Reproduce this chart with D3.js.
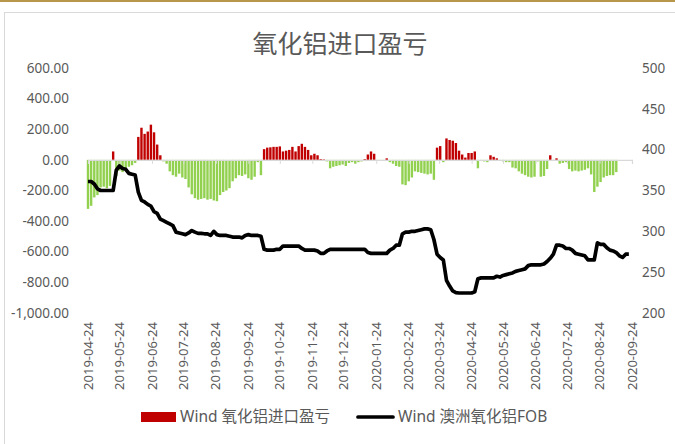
<!DOCTYPE html>
<html>
<head>
<meta charset="utf-8">
<script src="https://cdn.jsdelivr.net/npm/d3@7"></script>
<style>
  body { margin: 0; background: #fff; }
  svg { display: block; }
  text { font-family: "Noto Sans", "Noto Sans CJK SC", sans-serif; fill: #595959; }
</style>
</head>
<body>
<svg width="675" height="444"></svg>
<script>
// 数据：每 3 天一个点，从 2019-04-24 开始
var startDate = new Date(2019, 3, 24);
var endDate = new Date(2020, 8, 24);

// 氧化铝进口盈亏 (左轴)
var profit = [
  -320, -300, -245, -230, -180, -175, -185, -170, 55, -105,
  -70, -80, -60, -45, -35, -20, 150, 210, 170, 185,
  230, 180, 100, 30, -10, -25, -75, -100, -110, -90,
  -115, -125, -180, -225, -250, -260, -255, -250, -260, -255,
  -265, -270, -230, -210, -200, -185, -140, -120, -100, -105,
  -95, -120, -130, -110, -15, -100, 70, 80, 82, 85,
  85, 88, 55, 60, 65, 85, 55, 90, 105, 85,
  65, 30, 40, 30, 5, 3, -10, -55, -45, -40,
  -35, -30, -40, -20, -15, -25, -15, -10, 5, 35,
  55, 40, -5, -5, -5, 10, -15, -25, -40, -45,
  -160, -165, -140, -115, -75, -80, -85, -90, -95, -90,
  -130, 80, 90, -15, 140, 130, 125, 110, 60, 35,
  15, 45, 45, 55, -55, -5, -10, -15, 30, 20,
  10, -5, -10, -15, -15, -50, -55, -75, -90, -100,
  -110, -115, -110, -10, -110, -105, -60, 30, -5, 10,
  -25, -20, -15, -60, -75, -70, -75, -70, -65, -55,
  -95, -210, -175, -145, -115, -105, -100, -100, -80, 0,
  0, 0, 0
];

// 澳洲氧化铝FOB (右轴)
var fob = [
  361, 361, 358, 352, 350, 350, 350, 350, 350, 375,
  380, 377, 376, 371, 370, 369, 348, 338, 336, 333,
  331, 324, 322, 315, 313, 311, 309, 307, 299, 298,
  297, 296, 298, 301, 299, 297.5, 297.5, 297, 297, 295,
  300, 296, 295, 295, 295, 294, 293, 293, 293, 292,
  295, 296, 295, 295, 295, 294, 278, 277, 277, 277,
  278, 278, 282, 282, 282, 282, 282, 282, 279, 277,
  277, 277, 277, 276, 273, 273, 276, 278, 278, 278,
  278, 278, 278, 278, 278, 278, 278, 278, 278, 274,
  273, 273, 273, 273, 273, 273, 277, 279, 283, 283,
  297, 299, 299, 300, 300, 301, 302, 303, 303, 302,
  290, 272, 268, 265, 240, 233, 227, 225, 224.5, 224.5,
  224.5, 224.5, 224.5, 226, 242, 243, 243, 243, 243, 243,
  245, 244, 246, 247, 248, 249, 251, 252, 253, 254,
  258, 259, 259, 259, 259, 260, 263, 267, 272, 283,
  283, 282, 279, 279, 277, 273, 272, 271, 270, 265,
  265, 265, 286, 284, 284, 280, 277, 276, 274, 270,
  268, 272, 272
];

var leftTicks = [600, 400, 200, 0, -200, -400, -600, -800, -1000];
var rightTicks = [500, 450, 400, 350, 300, 250, 200];
var tickDates = d3.range(18).map(function (k) { return new Date(2019, 3 + k, 24); });

var dates = profit.map(function (d, i) { return d3.timeDay.offset(startDate, i * 3); });

var svg = d3.select("svg");

// 外框
svg.append("rect").attr("x", 0).attr("y", 0).attr("width", 675).attr("height", 2).attr("fill", "#b8964a");
svg.append("rect")
    .attr("x", 4.5).attr("y", 12.5).attr("width", 680).attr("height", 440)
    .attr("fill", "none").attr("stroke", "#d9d9d9");

// 标题
svg.append("text")
    .attr("x", 340).attr("y", 53)
    .attr("text-anchor", "middle")
    .attr("font-size", 25)
    .style("font-family", "'Noto Sans CJK SC', sans-serif")
    .text("氧化铝进口盈亏");

var x = d3.scaleTime().domain([startDate, endDate]).range([88, 632]);
var yL = d3.scaleLinear().domain([-1000, 600]).range([313, 68]);
var yR = d3.scaleLinear().domain([200, 500]).range([313, 68]);

// 左轴
svg.append("g")
    .selectAll("text")
    .data(leftTicks)
    .enter().append("text")
    .attr("x", 69)
    .attr("y", function (d) { return yL(d); })
    .attr("dy", "0.35em")
    .attr("text-anchor", "end")
    .attr("font-size", 13.5)
    .text(function (d) { return d3.format(",.2f")(d).replace("−", "-"); });

// 右轴
svg.append("g")
    .selectAll("text")
    .data(rightTicks)
    .enter().append("text")
    .attr("x", 642)
    .attr("y", function (d) { return yR(d); })
    .attr("dy", "0.35em")
    .attr("text-anchor", "start")
    .attr("font-size", 13.5)
    .text(function (d) { return d; });

// 柱子
svg.append("g")
    .selectAll("rect")
    .data(profit)
    .enter().append("rect")
    .attr("x", function (d, i) { return x(dates[i]) - 1.2; })
    .attr("width", 2.4)
    .attr("y", function (d) { return d >= 0 ? yL(d) : yL(0); })
    .attr("height", function (d) { return Math.abs(yL(d) - yL(0)); })
    .attr("fill", function (d) { return d >= 0 ? "#c00000" : "#92d050"; });

// 零轴线和刻度
var axis = svg.append("g")
    .attr("transform", "translate(0," + yL(0) + ")")
    .call(d3.axisBottom(x).tickValues(tickDates).tickSize(4).tickFormat(""));
axis.select(".domain").attr("stroke", "#d9d9d9").attr("stroke-width", 1.2);
axis.selectAll(".tick line").attr("stroke", "#d9d9d9");

// x轴标签
svg.append("g")
    .selectAll("text")
    .data(tickDates)
    .enter().append("text")
    .attr("transform", function (d) { return "translate(" + x(d) + ",322) rotate(-90)"; })
    .attr("dy", "0.35em")
    .attr("text-anchor", "end")
    .attr("font-size", 13)
    .text(function (d) { return d3.timeFormat("%Y-%m-%d")(d); });

// 折线
var line = d3.line()
    .x(function (d, i) { return x(dates[i]); })
    .y(function (d) { return yR(d); });

svg.append("path")
    .datum(fob)
    .attr("fill", "none")
    .attr("stroke", "#000")
    .attr("stroke-width", 3.7)
    .attr("stroke-linejoin", "round")
    .attr("d", line);

// 图例
var legend = svg.append("g").style("font-family", "'Noto Sans CJK SC', sans-serif");
legend.append("rect").attr("x", 141).attr("y", 412).attr("width", 35).attr("height", 10).attr("fill", "#c00000");
legend.append("text").attr("x", 180).attr("y", 417).attr("dy", "0.35em").attr("font-size", 15.5)
    .text("Wind 氧化铝进口盈亏");
legend.append("line").attr("x1", 358).attr("x2", 393).attr("y1", 417).attr("y2", 417)
    .attr("stroke", "#000").attr("stroke-width", 3.7).attr("stroke-linecap", "round");
legend.append("text").attr("x", 398).attr("y", 417).attr("dy", "0.35em").attr("font-size", 15.5)
    .text("Wind 澳洲氧化铝FOB");
</script>
</body>
</html>
